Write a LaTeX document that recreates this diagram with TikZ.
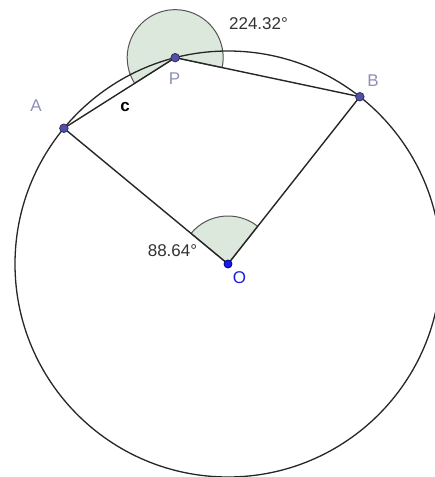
\documentclass[tikz,border=0pt]{standalone}
\usepackage{fontspec}
\setmainfont{Liberation Sans}
\usetikzlibrary{calc}
\definecolor{sectorfill}{HTML}{DCE8DC}
\definecolor{sectorline}{HTML}{555555}
\definecolor{ptfill}{HTML}{5050A8}
\definecolor{ptline}{HTML}{303060}
\definecolor{lblgray}{HTML}{9090B8}
\definecolor{oblue}{HTML}{1A1AE0}
\tikzset{
  seg/.style={draw=black!85, line width=1.4pt},
  sector/.style={fill=sectorfill, draw=sectorline, line width=1pt},
  pt/.style={circle, fill=ptfill, draw=ptline, line width=0.8pt, inner sep=0pt, minimum size=8.5pt},
  ptO/.style={circle, fill=oblue, draw=blue!60!black, line width=0.8pt, inner sep=0pt, minimum size=8pt},
  lbl/.style={text=lblgray, font=\fontsize{17}{19}\selectfont, inner sep=0pt},
  anglbl/.style={text=black!80, font=\fontsize{17}{19}\selectfont, inner sep=0pt},
}
\begin{document}
\begin{tikzpicture}[x=1pt,y=1pt]
\useasboundingbox (0,0) rectangle (435,477);
\fill[white] (0,0) rectangle (435,477);
\coordinate (O) at (228,213);
\coordinate (A) at ($(O)+(140.4:213)$);
\coordinate (B) at ($(O)+(51.76:213)$);
\coordinate (P) at ($(O)+(104.36:213)$);
% sectors
\path[sector] (P) -- ++(-11.95:48) arc[start angle=-11.95, end angle=212.37, radius=48] -- cycle;
\path[sector] (O) -- ++(51.76:48) arc[start angle=51.76, end angle=140.4, radius=48] -- cycle;
% circle
\draw[black!85, line width=1.3pt] (O) circle[radius=213];
% segments
\draw[seg] (A) -- (P) -- (B);
\draw[seg] (A) -- (O) -- (B);
% points
\node[pt] (nA) at (A) {};
\node[pt] (nB) at (B) {};
\node[pt] (nP) at (P) {};
\node[ptO] (nO) at (O) {};
% labels
\node[lbl] (lA) at (36,371) {A};
\node[lbl] (lB) at (373,396.5) {B};
\node[lbl] (lP) at (174.5,398.5) {P};
\node[lbl, text=oblue] (lO) at (239.5,199.5) {O};
\node[inner sep=0pt, font=\fontsize{17}{19}\selectfont\bfseries] (lc) at (125,369.5) {c};
\node[anglbl] (a1) at (258.5,453) {224.32°};
\node[anglbl] (a2) at (172.5,226) {88.64°};
\end{tikzpicture}
\end{document}
